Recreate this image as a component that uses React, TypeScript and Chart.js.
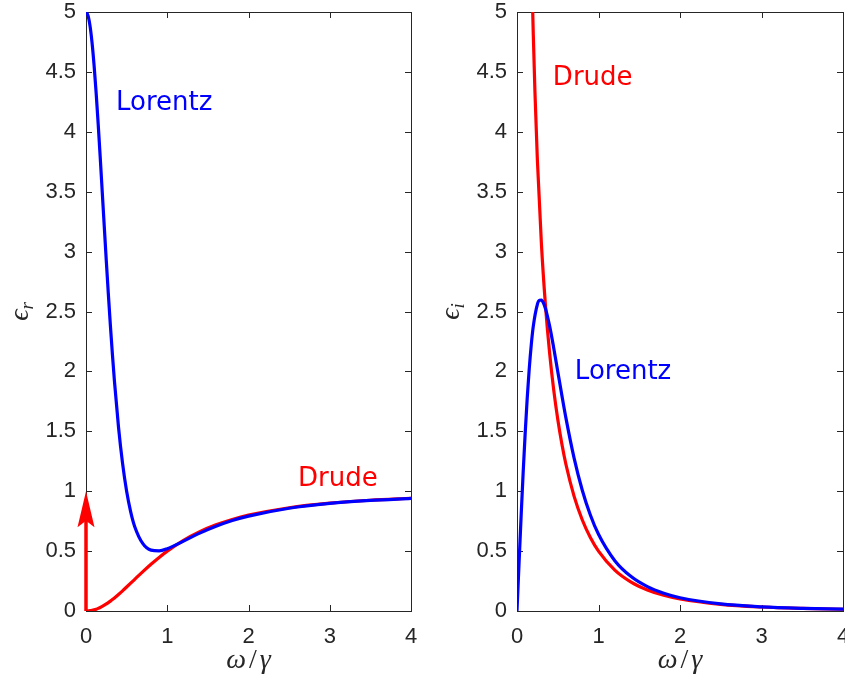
import React, { useEffect, useRef } from "react";
import { Chart, registerables } from "chart.js";
Chart.register(...registerables);

// ---- data ----
const omega = [0, 0.025, 0.05, 0.075, 0.1, 0.125, 0.15, 0.175, 0.2, 0.25, 0.275, 0.3, 0.325, 0.35, 0.4, 0.45, 0.5, 0.55, 0.6, 0.7, 0.8, 0.9, 1.0, 1.2, 1.4, 1.6, 1.8, 2.0, 2.5, 3.0, 3.5, 4.0];
const lorentzReal = [5, 4.97, 4.882, 4.74, 4.55, 4.322, 4.064, 3.786, 3.497, 2.92, 2.645, 2.384, 2.142, 1.919, 1.535, 1.232, 1.0, 0.828, 0.704, 0.562, 0.508, 0.502, 0.52, 0.583, 0.65, 0.707, 0.755, 0.792, 0.858, 0.898, 0.923, 0.94];
const drudeReal = [0, 0.0006, 0.0025, 0.0056, 0.0099, 0.0154, 0.022, 0.0297, 0.0385, 0.0588, 0.0703, 0.0826, 0.0955, 0.1091, 0.1379, 0.1684, 0.2, 0.2322, 0.2647, 0.3289, 0.3902, 0.4475, 0.5, 0.5902, 0.6622, 0.7191, 0.7642, 0.8, 0.8621, 0.9, 0.9245, 0.9412];
const lorentzImag = [0, 0.398, 0.784, 1.148, 1.479, 1.772, 2.02, 2.222, 2.378, 2.56, 2.594, 2.595, 2.57, 2.522, 2.38, 2.198, 2.0, 1.802, 1.612, 1.278, 1.01, 0.801, 0.64, 0.42, 0.287, 0.203, 0.148, 0.111, 0.0592, 0.0351, 0.0224, 0.0151];
const drudeImagOmega = [0.19, 0.2, 0.22, 0.25, 0.3, 0.35, 0.4, 0.45, 0.5, 0.55, 0.6, 0.7, 0.8, 0.9, 1.0, 1.2, 1.4, 1.6, 1.8, 2.0, 2.5, 3.0, 3.5, 4.0];
const drudeImag = [5.08, 4.808, 4.336, 3.765, 3.058, 2.545, 2.155, 1.848, 1.6, 1.396, 1.225, 0.959, 0.762, 0.614, 0.5, 0.3415, 0.2413, 0.1756, 0.131, 0.1, 0.0552, 0.0333, 0.0216, 0.0147];

// delta function arrow in the left panel (x, from y, to y)
const deltaArrow = [0, 0, 1];

const xTicks = [0, 1, 2, 3, 4];
const yTicks = [0, 0.5, 1, 1.5, 2, 2.5, 3, 3.5, 4, 4.5, 5];

const leftNotes = ["Lorentz", "Drude"];
const leftNoteX = [0.37, 2.61];
const leftNoteY = [4.235, 1.1];
const rightNotes = ["Drude", "Lorentz"];
const rightNoteX = [0.44, 0.71];
const rightNoteY = [4.445, 1.99];

const BLUE = "#0000ff";
const RED = "#ff0000";
const AXIS = "#262626";

type PanelProps = {
  width: number;
  left: number;
  yAxisWidth: number;
  rightPad: number;
  sub: string;
  series: { xs: number[]; ys: number[]; color: string }[];
  notes: string[];
  noteX: number[];
  noteY: number[];
  noteColors: string[];
  arrow: boolean;
};

const HEIGHT = 686;

function Panel(props: PanelProps) {
  const ref = useRef<HTMLCanvasElement | null>(null);
  useEffect(() => {
    const canvas = ref.current;
    if (!canvas) return;
    const decor = {
      id: "decor",
      beforeDatasetsDraw(chart: any) {
        const { ctx, chartArea, scales } = chart;
        const { left, right, top, bottom } = chartArea;
        const x = scales.x, y = scales.y;
        ctx.save();
        ctx.strokeStyle = AXIS;
        ctx.lineWidth = 1;
        ctx.strokeRect(Math.round(left) + 0.5, Math.round(top) + 0.5, Math.round(right - left), Math.round(bottom - top));
        const tl = 6;
        ctx.beginPath();
        for (const v of xTicks) {
          const px = Math.round(x.getPixelForValue(v)) + 0.5;
          ctx.moveTo(px, bottom);
          ctx.lineTo(px, bottom - tl);
          ctx.moveTo(px, top);
          ctx.lineTo(px, top + tl);
        }
        for (const v of yTicks) {
          const py = Math.round(y.getPixelForValue(v)) + 0.5;
          ctx.moveTo(left, py);
          ctx.lineTo(left + tl, py);
          ctx.moveTo(right, py);
          ctx.lineTo(right - tl, py);
        }
        ctx.stroke();
        ctx.restore();
      },
      afterDatasetsDraw(chart: any) {
        const { ctx, scales } = chart;
        const x = scales.x, y = scales.y;
        if (props.arrow) {
          const px = x.getPixelForValue(deltaArrow[0]);
          const p0 = y.getPixelForValue(deltaArrow[1]);
          const p1 = y.getPixelForValue(deltaArrow[2]);
          const headLen = 36, headW = 8.5;
          ctx.save();
          ctx.strokeStyle = RED;
          ctx.lineWidth = 3.5;
          ctx.beginPath();
          ctx.moveTo(px, p0);
          ctx.lineTo(px, p1 + headLen * 0.8);
          ctx.stroke();
          ctx.fillStyle = RED;
          ctx.beginPath();
          ctx.moveTo(px, p1);
          ctx.lineTo(px + headW, p1 + headLen);
          ctx.lineTo(px, p1 + headLen * 0.82);
          ctx.lineTo(px - headW, p1 + headLen);
          ctx.closePath();
          ctx.fill();
          ctx.restore();
        }
      },
      afterDraw(chart: any) {
        const { ctx, chartArea, scales } = chart;
        const { left, right, top, bottom } = chartArea;
        const x = scales.x, y = scales.y;
        ctx.save();
        // annotations
        ctx.font = "26px 'DejaVu Sans'";
        ctx.textBaseline = "middle";
        ctx.textAlign = "left";
        props.notes.forEach((t, i) => {
          ctx.fillStyle = props.noteColors[i];
          ctx.fillText(t, x.getPixelForValue(props.noteX[i]), y.getPixelForValue(props.noteY[i]));
        });

        // x axis label: ω/γ
        ctx.fillStyle = AXIS;
        ctx.textBaseline = "alphabetic";
        ctx.textAlign = "left";
        const serif = "'Liberation Serif', 'DejaVu Serif', serif";
        ctx.font = `italic 28px ${serif}`;
        const wO = ctx.measureText("ω").width;
        const wG = ctx.measureText("γ").width;
        ctx.font = `28px ${serif}`;
        const wS = ctx.measureText("/").width;
        const gap = 3;
        const total = wO + wS + wG + gap * 2;
        let cx = (left + right) / 2 - total / 2;
        const by = 668;
        ctx.font = `italic 28px ${serif}`;
        ctx.fillText("ω", cx, by);
        cx += wO + gap;
        ctx.font = `28px ${serif}`;
        ctx.fillText("/", cx, by);
        cx += wS + gap;
        ctx.font = `italic 28px ${serif}`;
        ctx.fillText("γ", cx, by);

        // y axis label: ϵ_sub
        ctx.save();
        ctx.translate(left - 64, (top + bottom) / 2);
        ctx.rotate(-Math.PI / 2);
        ctx.font = `italic 28px ${serif}`;
        const wE = ctx.measureText("ϵ").width;
        ctx.font = `italic 19px ${serif}`;
        const wR = ctx.measureText(props.sub).width;
        const sx = -(wE + wR) / 2;
        ctx.font = `italic 28px ${serif}`;
        ctx.fillText("ϵ", sx, 6);
        ctx.font = `italic 19px ${serif}`;
        ctx.fillText(props.sub, sx + wE, 11);
        ctx.restore();

        ctx.restore();
      },
    };

    const tickFont = { family: "'Liberation Sans', Arial, sans-serif", size: 22 };
    const chart = new Chart(canvas, {
      type: "scatter",
      data: {
        datasets: props.series.map((s) => ({
          data: s.xs.map((xv, i) => ({ x: xv, y: s.ys[i] })),
          showLine: true,
          borderColor: s.color,
          backgroundColor: s.color,
          borderWidth: 3.2,
          pointRadius: 0,
          cubicInterpolationMode: "monotone" as const,
        })),
      },
      options: {
        responsive: false,
        animation: false,
        events: [],
        layout: { padding: { left: 0, top: 12, right: props.rightPad, bottom: 0 } },
        plugins: { legend: { display: false }, tooltip: { enabled: false } },
        scales: {
          x: {
            type: "linear",
            min: 0,
            max: 4,
            grid: { display: false, drawTicks: false },
            border: { display: false },
            afterBuildTicks: (scale: any) => {
              scale.ticks = xTicks.map((v) => ({ value: v }));
            },
            ticks: {
              color: AXIS,
              font: tickFont,
              padding: 13,
              autoSkip: false,
              maxRotation: 0,
              callback: (v: any) => String(v),
            },
            afterFit: (scale: any) => {
              scale.height = 75;
              scale.paddingLeft = 0;
              scale.paddingRight = 0;
            },
          },
          y: {
            type: "linear",
            min: 0,
            max: 5,
            grid: { display: false, drawTicks: false },
            border: { display: false },
            afterBuildTicks: (scale: any) => {
              scale.ticks = yTicks.map((v) => ({ value: v }));
            },
            ticks: {
              color: AXIS,
              font: tickFont,
              padding: 10,
              autoSkip: false,
              callback: (v: any) => String(v),
            },
            afterFit: (scale: any) => {
              scale.width = props.yAxisWidth;
              scale.paddingTop = 0;
              scale.paddingBottom = 0;
            },
          },
        },
      },
      plugins: [decor],
    } as any);
    return () => chart.destroy();
  }, []);

  return (
    <canvas
      ref={ref}
      width={props.width}
      height={HEIGHT}
      style={{ position: "absolute", left: props.left, top: 0, width: props.width, height: HEIGHT }}
    />
  );
}

export default function App() {
  return (
    <div style={{ position: "fixed", left: 0, top: 0, width: 845, height: HEIGHT, background: "#fff", overflow: "hidden" }}>
      <Panel
        width={430}
        left={0}
        yAxisWidth={86}
        rightPad={19}
        sub="r"
        series={[
          { xs: omega, ys: lorentzReal, color: BLUE },
          { xs: omega, ys: drudeReal, color: RED },
        ]}
        notes={leftNotes}
        noteX={leftNoteX}
        noteY={leftNoteY}
        noteColors={[BLUE, RED]}
        arrow={true}
      />
      <Panel
        width={415}
        left={430}
        yAxisWidth={87}
        rightPad={2}
        sub="i"
        series={[
          { xs: omega, ys: lorentzImag, color: BLUE },
          { xs: drudeImagOmega, ys: drudeImag, color: RED },
        ]}
        notes={rightNotes}
        noteX={rightNoteX}
        noteY={rightNoteY}
        noteColors={[RED, BLUE]}
        arrow={false}
      />
    </div>
  );
}
